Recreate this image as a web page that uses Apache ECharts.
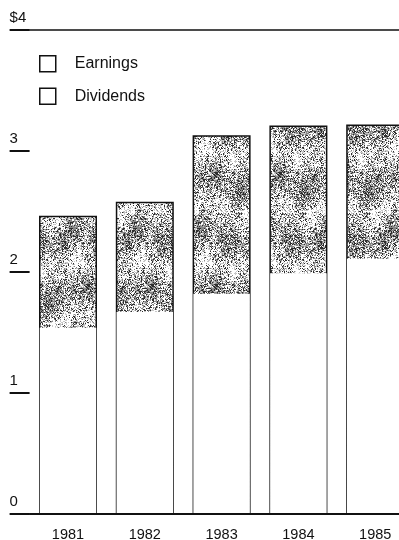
<!DOCTYPE html>
<html>
<head>
<meta charset="utf-8">
<script src="https://cdn.jsdelivr.net/npm/echarts@6/dist/echarts.min.js"></script>
<style>
html,body{margin:0;padding:0;background:#fff;}
#chart{width:399px;height:540px;}
</style>
</head>
<body>
<div id="chart"></div>
<script>
var years = ['1981', '1982', '1983', '1984', '1985'];
var earnings = [2.465, 2.58, 3.13, 3.21, 3.22];
var dividends = [1.54, 1.67, 1.82, 1.99, 2.11];
var yTicks = [0, 1, 2, 3, 4];

// stipple texture (decoration only)
function makeStipple() {
  var w = 64, h = 112;
  var c = document.createElement('canvas');
  c.width = w; c.height = h;
  var ctx = c.getContext('2d');
  var seed = 12345;
  function rnd() { seed = (seed * 1103515245 + 12345) & 0x7fffffff; return seed / 0x7fffffff; }
  var img = ctx.createImageData(w, h);
  for (var y = 0; y < h; y++) {
    for (var x = 0; x < w; x++) {
      var d = 0.42 + 0.2 * Math.sin(2 * Math.PI * (y / 56) + 0.9 * Math.sin(2 * Math.PI * x / 64))
                   + 0.1 * Math.sin(2 * Math.PI * (x / 32 + y / 112))
                   + 0.06 * Math.sin(2 * Math.PI * (x / 16 - y / 28));
      var r = rnd();
      var v = 255;
      if (r < d * 0.45) v = 45;
      else if (r < d) v = 135;
      else if (r < d + 0.2) v = 200;
      var i = (y * w + x) * 4;
      img.data[i] = v; img.data[i + 1] = v; img.data[i + 2] = v; img.data[i + 3] = 255;
    }
  }
  ctx.putImageData(img, 0, 0);
  return c;
}

var font = "'Liberation Sans', Arial, Helvetica, sans-serif";
var chart = echarts.init(document.getElementById('chart'), null, {renderer: 'canvas'});
chart.setOption({
  animation: false,
  backgroundColor: '#ffffff',
  textStyle: {fontFamily: font, color: '#111'},
  grid: {left: 29.6, top: 30, width: 384, height: 484, containLabel: false, outerBoundsMode: 'none'},
  legend: {
    orient: 'vertical', left: 39, top: 55, padding: 0,
    itemWidth: 16, itemHeight: 16, itemGap: 15, icon: 'rect',
    textStyle: {fontFamily: font, fontSize: 16, color: '#111', padding: [0, 0, 0, 14]},
    itemStyle: {borderColor: '#111', borderWidth: 1.5},
    data: [
      {name: 'Earnings', itemStyle: {color: '#ffffff', borderColor: '#111', borderWidth: 1.5}},
      {name: 'Dividends', itemStyle: {color: '#ffffff', borderColor: '#111', borderWidth: 1.5}}
    ]
  },
  xAxis: [
    {
      type: 'category', data: years, position: 'bottom', z: 10,
      axisLine: {show: true, lineStyle: {color: '#111', width: 2}},
      axisTick: {show: false},
      axisLabel: {fontFamily: font, fontSize: 14.5, color: '#111', margin: 13}
    },
    {
      type: 'category', data: years, position: 'top', z: 10,
      axisLine: {show: true, lineStyle: {color: '#111', width: 1.5}},
      axisTick: {show: false},
      axisLabel: {show: false}
    }
  ],
  yAxis: {
    type: 'value', min: 0, max: 4, interval: 1,
    axisLine: {show: false},
    splitLine: {show: false},
    axisTick: {show: true, length: 20, lineStyle: {color: '#111', width: 2}},
    axisLabel: {
      fontFamily: font, fontSize: 15, color: '#111',
      align: 'left', margin: 20, verticalAlign: 'bottom', padding: [0, 0, 5, 0],
      formatter: function (v) { return v === 4 ? '$4' : String(v); }
    }
  },
  series: [
    {
      name: 'Earnings', type: 'bar', xAxisIndex: 0, data: earnings,
      barWidth: 58, z: 2,
      itemStyle: {color: {image: makeStipple(), repeat: 'repeat'}, borderColor: '#111', borderWidth: 1.5}
    },
    {
      name: 'Dividends', type: 'bar', xAxisIndex: 1, data: dividends,
      barWidth: 56.5, z: 3,
      itemStyle: {color: '#ffffff', borderWidth: 0}
    }
  ]
});
</script>
</body>
</html>
